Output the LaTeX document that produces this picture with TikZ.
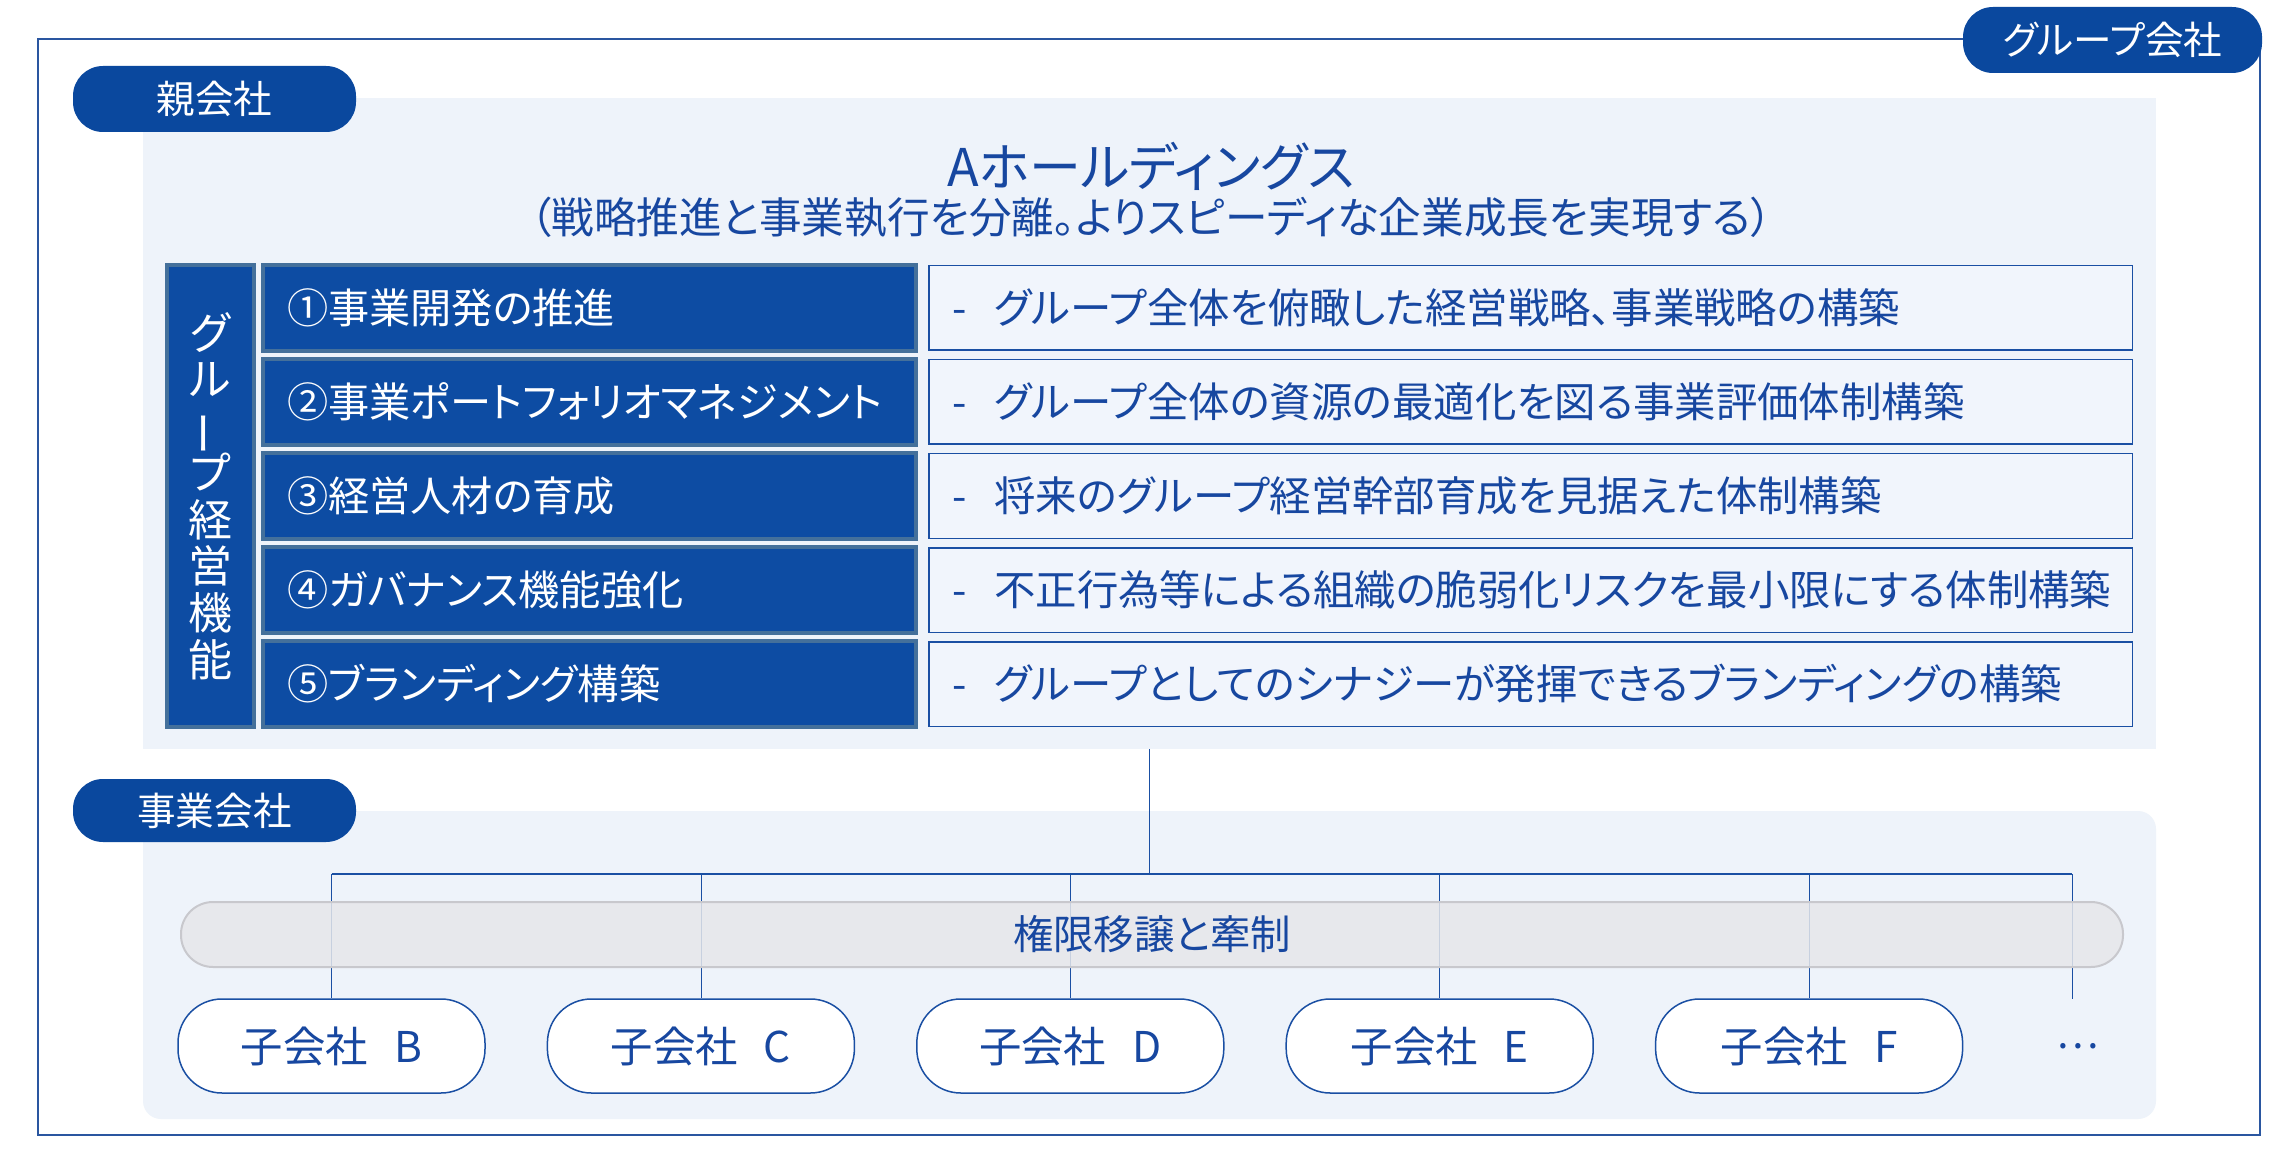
\documentclass[tikz,border=0pt]{standalone}
\usepackage{fontspec}
\setmainfont{Noto Sans CJK JP}[RawFeature=+palt]
\usepackage{graphicx}
\definecolor{pillblue}{HTML}{0A489E}
\definecolor{rowblue}{HTML}{0D4CA3}
\definecolor{rowedge}{HTML}{44709B}
\definecolor{panelbg}{HTML}{EEF3FA}
\definecolor{boxbg}{HTML}{F1F5FC}
\definecolor{txtblue}{HTML}{1747A0}
\definecolor{lineblue}{HTML}{1A4FA3}
\definecolor{bandfill}{HTML}{E6E7EA}
\definecolor{bandedge}{HTML}{C8C8CD}
\definecolor{frameblue}{HTML}{2A56A0}
\begin{document}
\begin{tikzpicture}[x=0.5pt,y=-0.5pt,
  pill/.style={fill=pillblue, rounded corners=15pt, text=white, inner sep=0pt,
    font=\fontsize{19.3}{21}\selectfont, minimum height=33pt},
  panelbox/.style={fill=panelbg, inner sep=0pt, minimum width=1006.5pt},
  rowbase/.style={draw=rowedge, line width=2pt, fill=rowblue, text=white, inner sep=0pt},
  rowbox/.style={rowbase, minimum width=326.5pt, minimum height=43pt, inner xsep=12pt,
    text width=302.5pt, align=left, font=\fontsize{20.6}{24}\selectfont},
  descbox/.style={draw=lineblue, line width=0.75pt, fill=boxbg, text=txtblue, inner sep=0pt,
    minimum width=601.75pt, minimum height=42.25pt, inner xsep=11.6pt,
    text width=578.5pt, align=left, font=\fontsize{20.7}{24}\selectfont},
  childbox/.style={draw=lineblue, line width=0.75pt, fill=white, rounded corners=22pt,
    minimum width=153.5pt, minimum height=47pt, text=txtblue, inner sep=0pt,
    font=\fontsize{21.2}{24}\selectfont},
  trunk/.style={draw=lineblue, line width=0.75pt},
  drop/.style={draw=lineblue, line width=0.4pt},
  bandbox/.style={fill=bandfill, fill opacity=0.85, text opacity=1, draw=bandedge, line width=1pt,
    rounded corners=16pt, minimum width=971pt, minimum height=32.5pt, inner sep=0pt,
    text=txtblue, font=\fontsize{20.2}{24}\selectfont}
]
\useasboundingbox (0,0) rectangle (2278,1154);
\fill[white] (0,0) rectangle (2278,1154);

% outer group frame
\node[draw=frameblue, line width=0.7pt, minimum width=1111pt, minimum height=548pt, inner sep=0pt] (group) at (1149,587) {};

% panels
\node[panelbox, minimum height=325.5pt] (parent) at (1149.5,423.5) {};
\node[panelbox, minimum height=154pt, rounded corners=9pt] (ops) at (1149.5,965) {};

% pills
\node[pill, minimum width=149.5pt] (grouplabel) at (2112.5,40) {グループ会社};
\node[pill, minimum width=141.5pt] (parentlabel) at (214.5,99) {親会社};
\node[pill, minimum width=141.5pt, minimum height=31.5pt] (opslabel) at (214.5,810.5) {事業会社};

% titles
\node[font=\fontsize{26}{30}\selectfont, text=txtblue, inner sep=0pt] (title) at (1151,166) {Aホールディングス};
\node[font=\fontsize{21.3}{25}\selectfont, text=txtblue, inner sep=0pt] (subtitle) at (1151,217) {（戦略推進と事業執行を分離。よりスピーディな企業成長を実現する）};

% vertical label
\node[rowbase, minimum width=43.5pt, minimum height=231pt, align=center,
  font=\fontsize{22}{23.35}\selectfont] (gk) at (210.5,496)
  {グ\\ル\\\smash{\rotatebox[origin=c]{90}{ー}}\\プ\\経\\営\\機\\能};

% function rows
\node[rowbox] (r1) at (589.5,308) {①事業開発の推進};
\node[rowbox] (r2) at (589.5,402) {②事業ポートフォリオマネジメント};
\node[rowbox] (r3) at (589.5,496) {③経営人材の育成};
\node[rowbox] (r4) at (589.5,590) {④ガバナンス機能強化};
\node[rowbox] (r5) at (589.5,684) {⑤ブランディング構築};

% descriptions
\node[descbox] (d1) at (1530.5,308) {-\kern14pt グループ全体を俯瞰した経営戦略、事業戦略の構築};
\node[descbox] (d2) at (1530.5,402) {-\kern14pt グループ全体の資源の最適化を図る事業評価体制構築};
\node[descbox] (d3) at (1530.5,496) {-\kern14pt 将来のグループ経営幹部育成を見据えた体制構築};
\node[descbox] (d4) at (1530.5,590) {-\kern14pt 不正行為等による組織の脆弱化リスクを最小限にする体制構築};
\node[descbox] (d5) at (1530.5,684) {-\kern14pt グループとしてのシナジーが発揮できるブランディングの構築};

% subsidiaries
\node[childbox] (cB) at (331.5,1046) {子会社\kern13pt B};
\node[childbox] (cC) at (700.9,1046) {子会社\kern13pt C};
\node[childbox] (cD) at (1070.3,1046) {子会社\kern13pt D};
\node[childbox] (cE) at (1439.7,1046) {子会社\kern13pt E};
\node[childbox] (cF) at (1809.1,1046) {子会社\kern13pt F};
\node[text=txtblue, font=\fontsize{20}{24}\selectfont, inner sep=0pt] (dots) at (2078,1046) {…};

% connectors
\coordinate (busL) at (331.5,874);
\coordinate (busR) at (2072,874);
\coordinate (more) at (2072,999);
\draw[trunk] (parent.south) -- (parent.south |- busL);
\draw[trunk] (busL) -- (busR);
\foreach \c in {cB,cC,cD,cE,cF} \draw[drop] (\c.north |- busL) -- (\c.north);
\draw[drop] (busR) -- (more);

% delegation band
\node[bandbox] (band) at (1152,934.5) {権限移譲と牽制};
\end{tikzpicture}
\end{document}
